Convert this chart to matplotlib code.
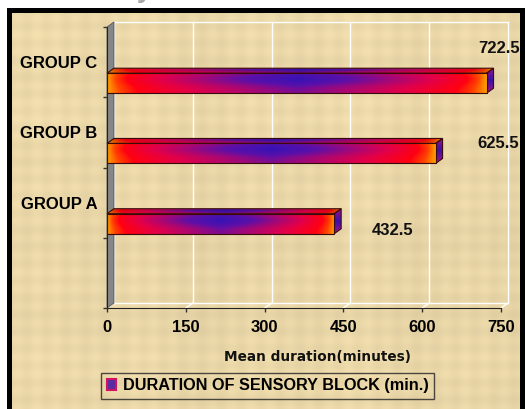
import numpy as np
import matplotlib
matplotlib.use('Agg')
import matplotlib.pyplot as plt
from matplotlib.colors import LinearSegmentedColormap, to_rgb
from matplotlib.patches import Polygon, Rectangle, Patch

plt.rcParams['font.family'] = ['Liberation Sans', 'DejaVu Sans']

groups = ['GROUP A', 'GROUP B', 'GROUP C']
durations = [432.5, 625.5, 722.5]
x_ticks = [0, 150, 300, 450, 600, 750]
x_label = 'Mean duration(minutes)'
series_name = 'DURATION OF SENSORY BLOCK (min.)'
title = 'Duration of sensory block'

PAPER = '#EAD7A8'
DX, DY = 13.3, 0.071      # depth of the 3d effect, in data units
BAR_H = 0.285
BAR_SHIFT = 0.30
EDGE = '#3a0a0a'

bar_cmap = LinearSegmentedColormap.from_list('bar', [
    (0.0, '#FF9C00'), (0.04, '#FF4400'), (0.10, '#FF0012'), (0.28, '#E2004A'),
    (0.50, '#A20878'), (0.72, '#5C10A8'), (1.0, '#3A12B4')])
end_cmap = LinearSegmentedColormap.from_list('end', ['#A0108A', '#3A10A8', '#A0108A'])


def front_gradient(nx=300, ny=40):
    u = np.linspace(0, 1, nx)
    v = np.linspace(0, 1, ny)
    th = 1 - np.abs(2 * u - 1)
    w = 0.62 + 0.38 * np.exp(-((v - 0.68) / 0.32) ** 2)
    return bar_cmap(w[:, None] * th[None, :])


def paper_texture(nx=525, ny=409):
    # faint woven look for the parchment background
    x = np.arange(nx)
    y = np.arange(ny)
    vx = 0.5 * np.sin(x / 3.1) + 0.3 * np.sin(x / 17.0) + 0.2 * np.sin(x / 41.0)
    vy = 0.5 * np.sin(y / 2.7) + 0.3 * np.sin(y / 13.0) + 0.2 * np.sin(y / 53.0)
    m = 1 + 0.025 * (vx[None, :] + vy[:, None])
    return np.clip(np.array(to_rgb(PAPER))[None, None, :] * m[..., None], 0, 1)


def shaded(ax, img, extent, poly):
    ax.add_patch(poly)
    im = ax.imshow(img, extent=extent, origin='lower', aspect='auto',
                   interpolation='bilinear', zorder=poly.get_zorder() - 0.1)
    im.set_clip_path(poly)
    im.set_clip_on(True)


def draw_bar(ax, val, yc):
    bot, top = yc - BAR_H / 2, yc + BAR_H / 2
    # top face
    poly = Polygon([(0, top), (val, top), (val + DX, top + DY), (DX, top + DY)],
                   closed=True, fc='none', ec=EDGE, lw=0.8, zorder=5, clip_on=False)
    img = front_gradient()
    img[..., :3] *= 0.9
    shaded(ax, img, [0, val + DX, top, top + DY], poly)
    # end face
    poly = Polygon([(val, bot), (val, top), (val + DX, top + DY), (val + DX, bot + DY)],
                   closed=True, fc='none', ec=EDGE, lw=0.8, zorder=5, clip_on=False)
    img = end_cmap(np.linspace(0, 1, 30))[:, None, :].repeat(5, axis=1)
    shaded(ax, img, [val, val + DX, bot, top + DY], poly)
    # front face
    poly = Polygon([(0, bot), (val, bot), (val, top), (0, top)],
                   closed=True, fc='none', ec=EDGE, lw=0.8, zorder=6)
    shaded(ax, front_gradient(), [0, val, bot, top], poly)


fig = plt.figure(figsize=(5.25, 4.09), dpi=100, facecolor='white')
fig.patches.append(Rectangle((7 / 525, 0), 518 / 525, 401 / 409, transform=fig.transFigure,
                             fc='black', ec='none', zorder=-10))
bg = fig.add_axes([12 / 525, 0, 508 / 525, 396 / 409], zorder=-5)
bg.imshow(paper_texture(508, 396), aspect='auto', interpolation='nearest')
bg.set_axis_off()

fig.text(232 / 525, 1 + 3 / 409, title, ha='right', va='baseline', fontsize=20,
         fontweight='bold', color='#a8a8a8')

ax = fig.add_axes([107 / 525, 101 / 409, 394 / 525, 281 / 409])
ax.set_facecolor('none')
xmax = x_ticks[-1]
ylo, yhi = -0.5, len(groups) + 0.5

# back wall grid and floor
grid_kw = dict(color='white', lw=1, clip_on=False, zorder=1)
for x in x_ticks:
    ax.plot([x + DX, x + DX], [ylo + DY, yhi + DY], **grid_kw)
    ax.plot([x, x + DX], [ylo, ylo + DY], **grid_kw)
ax.plot([DX, xmax + DX], [yhi + DY, yhi + DY], **grid_kw)
ax.plot([DX, xmax + DX], [ylo + DY, ylo + DY], **grid_kw)

# left wall
ax.add_patch(Polygon([(0, ylo), (0, yhi), (DX, yhi + DY), (DX, ylo + DY)], closed=True,
                     fc='#868686', ec='#555555', lw=0.6, zorder=2, clip_on=False))

cat_pos = np.arange(1, len(groups) + 1)
for val, yc in zip(durations, cat_pos):
    draw_bar(ax, val, yc - BAR_SHIFT)

label_offsets = [(42, -5), (45, 7), (9, 25)]
for val, yc, off in zip(durations, cat_pos, label_offsets):
    ax.annotate(f'{val}', (val, yc - BAR_SHIFT), xytext=off, textcoords='offset points',
                ha='center', va='center', fontsize=12, fontweight='bold', color='#111111',
                annotation_clip=False)

ax.set_xlim(0, xmax)
ax.set_ylim(ylo, yhi)
ax.set_xticks(x_ticks)
ax.set_xticklabels([str(t) for t in x_ticks], fontsize=12, fontweight='bold')
ax.set_yticks(cat_pos)
ax.set_yticklabels(groups, fontsize=12, fontweight='bold')
ax.set_yticks(np.arange(ylo, yhi + 0.1, 1), minor=True)
ax.tick_params(axis='y', which='major', length=0, pad=7)
ax.tick_params(axis='y', which='minor', length=3, color='#333333', width=1)
ax.tick_params(axis='x', length=3, color='#333333', width=1, pad=6)
for s in ['top', 'right']:
    ax.spines[s].set_visible(False)
for s in ['left', 'bottom']:
    ax.spines[s].set_color('#222222')
    ax.spines[s].set_zorder(7)

fig.text(317 / 525, (409 - 361) / 409, x_label, ha='center', va='baseline',
         fontsize=9.8, fontweight='bold', family='DejaVu Sans', color='#111111')

leg = fig.legend(handles=[Patch(fc='#5A2CA0', ec='#D01060', lw=1.5)], labels=[series_name],
                 loc='lower left', bbox_to_anchor=(101 / 525, 10 / 409), frameon=True,
                 fancybox=False, edgecolor='#222222', facecolor='none',
                 prop=dict(weight='bold', size=11.7), handlelength=0.6, handleheight=0.6,
                 handletextpad=0.4, borderpad=0.35, borderaxespad=0)
leg.get_frame().set_linewidth(1)

fig.savefig('out.png', dpi=100)
